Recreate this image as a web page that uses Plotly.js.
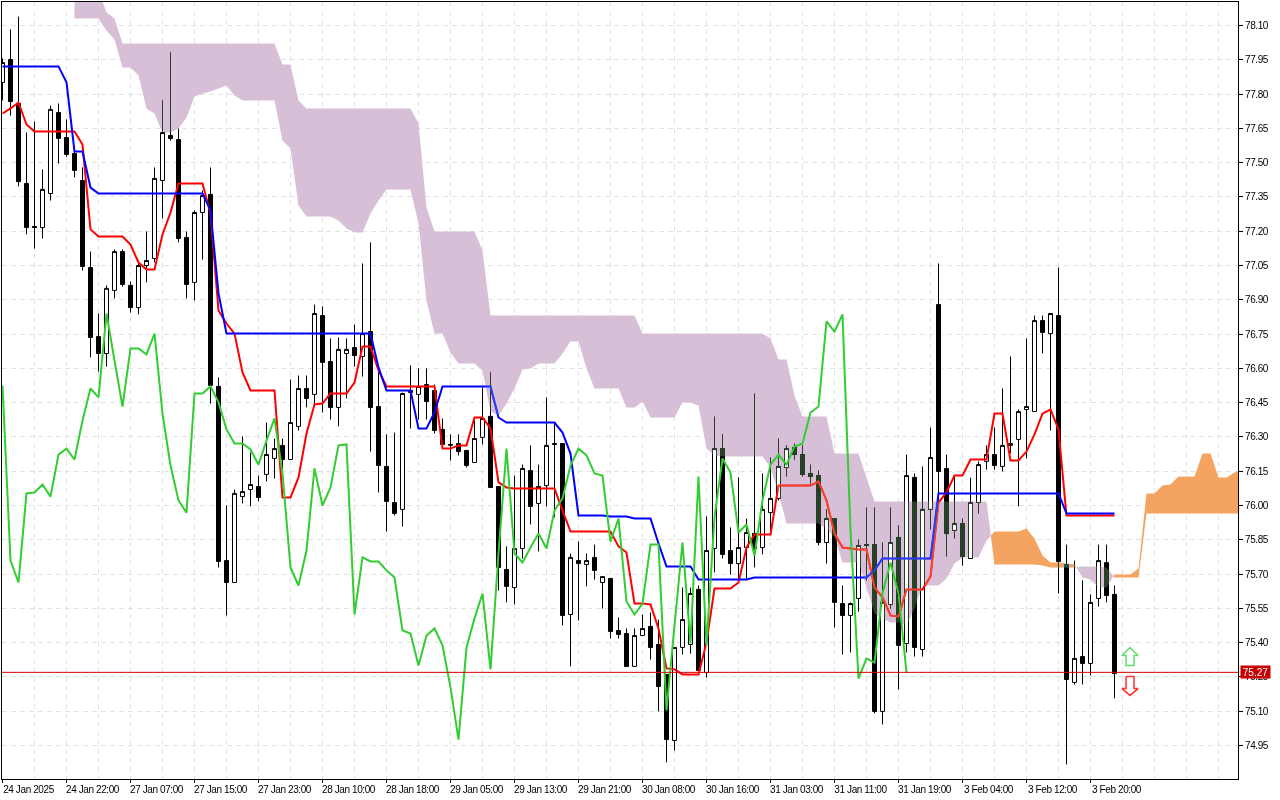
<!DOCTYPE html>
<html><head><meta charset="utf-8">
<script src="https://cdn.plot.ly/plotly-3.0.1.min.js"></script>
<style>html,body{margin:0;padding:0;background:#fff;overflow:hidden}#chart{width:1280px;height:800px}
#chart .xtick text,#chart .ytick text{letter-spacing:-0.4px}</style>
</head><body><div id="chart"></div>
<script>
const xTickBars = [0,8,16,24,32,40,48,56,64,72,80,88,96,104,112,120,128,136];
const xTickLabels = ["24 Jan 2025","24 Jan 22:00","27 Jan 07:00","27 Jan 15:00","27 Jan 23:00","28 Jan 10:00","28 Jan 18:00","29 Jan 05:00","29 Jan 13:00","29 Jan 21:00","30 Jan 08:00","30 Jan 16:00","31 Jan 03:00","31 Jan 11:00","31 Jan 19:00","3 Feb 04:00","3 Feb 12:00","3 Feb 20:00"];
const yTickValues = [78.10,77.95,77.80,77.65,77.50,77.35,77.20,77.05,76.90,76.75,76.60,76.45,76.30,76.15,76.00,75.85,75.70,75.55,75.40,75.25,75.10,74.95];
const lastPrice = 75.27;

const openPrice = [
77.851,77.951,77.759,77.409,77.221,77.216,77.365,77.719,77.610,77.540,
77.422,77.041,76.739,76.665,76.941,77.111,76.963,76.866,77.050,77.081,
77.422,77.619,77.601,77.173,76.976,77.282,77.361,76.521,75.759,75.663,
76.039,76.070,76.083,76.136,76.206,76.263,76.201,76.346,76.512,76.486,
76.831,76.630,76.429,76.665,76.691,76.652,76.761,76.433,76.171,76.013,
75.983,76.494,76.486,76.529,76.503,76.333,76.263,76.271,76.241,76.188,
76.298,76.390,76.083,75.720,75.641,75.812,76.153,76.009,76.087,76.267,
76.271,75.523,75.759,75.742,75.773,75.663,75.681,75.453,75.440,75.296,
75.431,75.471,75.392,75.261,74.972,75.379,75.392,75.633,75.269,75.812,
76.249,75.803,75.746,75.816,75.878,75.816,75.969,76.031,76.166,76.254,
76.223,76.140,76.131,75.838,75.943,75.571,75.519,75.593,75.825,75.829,
75.099,75.567,75.860,75.396,76.123,75.370,75.983,76.879,76.162,75.891,
75.921,75.768,76.013,76.193,76.223,76.171,76.263,76.289,76.420,76.411,
76.809,76.752,76.831,75.742,75.226,75.339,75.309,75.593,75.750,75.611];
const highPrice = [
77.956,78.083,78.139,77.632,77.680,77.470,77.750,77.759,77.689,77.566,
77.479,77.111,76.840,76.963,77.120,77.120,76.980,77.072,77.199,77.479,
77.772,77.982,77.649,77.199,77.291,77.378,77.479,76.560,76.000,76.070,
76.302,76.232,76.131,76.363,76.293,76.293,76.551,76.569,76.569,76.879,
76.871,76.731,76.735,76.731,76.792,77.059,77.151,76.604,76.311,76.319,
76.494,76.613,76.600,76.600,76.529,76.381,76.311,76.311,76.241,76.372,
76.516,76.582,76.083,75.821,76.131,76.179,76.263,76.179,76.473,76.363,
76.271,75.790,75.843,75.790,75.829,75.689,75.681,75.510,75.462,75.462,
75.523,75.532,75.501,75.261,75.379,75.641,75.641,75.650,75.952,76.389,
76.311,75.904,76.123,75.943,76.490,76.140,76.210,76.293,76.263,76.271,
76.263,76.179,76.153,75.983,75.943,75.650,75.576,75.851,75.991,75.991,
75.838,75.991,75.913,76.223,76.140,76.171,76.341,77.059,76.223,76.127,
75.943,76.122,76.193,76.263,76.341,76.512,76.652,76.420,76.731,76.831,
76.831,76.840,77.041,75.829,75.759,75.672,75.611,75.829,75.829,75.650];
const lowPrice = [
77.772,77.706,77.396,77.186,77.124,77.168,77.334,77.496,77.527,77.435,
77.028,76.648,76.586,76.608,76.906,76.958,76.844,76.836,76.976,77.063,
77.256,77.597,77.151,76.906,76.897,77.076,76.446,75.729,75.519,75.663,
76.009,75.996,76.018,76.105,76.118,76.118,76.201,76.328,76.429,76.442,
76.407,76.376,76.346,76.468,76.608,76.564,76.236,76.057,75.886,75.956,
75.908,76.337,76.376,76.376,76.315,76.254,76.197,76.219,76.166,76.188,
76.267,76.079,75.628,75.576,75.567,75.768,75.917,75.799,75.996,75.948,
75.475,75.296,75.497,75.646,75.676,75.549,75.418,75.418,75.296,75.296,
75.431,75.326,75.099,74.876,74.928,75.348,75.352,75.278,75.247,75.707,
75.768,75.698,75.672,75.681,75.729,75.786,75.891,76.022,76.127,76.201,
76.127,76.096,75.825,75.746,75.466,75.348,75.357,75.536,75.672,75.090,
75.042,75.549,75.195,75.357,75.339,75.339,75.895,76.022,75.777,75.856,
75.737,75.768,75.965,76.157,76.157,76.149,76.228,75.996,76.206,76.411,
76.665,76.328,75.615,74.867,75.217,75.217,75.256,75.558,75.576,75.156];
const closePrice = [
77.938,77.767,77.417,77.216,77.216,77.383,77.733,77.606,77.536,77.466,
77.046,76.735,76.665,76.950,77.111,76.967,76.866,77.050,77.072,77.431,
77.632,77.606,77.168,76.967,77.282,77.356,76.525,75.755,75.663,76.053,
76.061,76.092,76.035,76.223,76.249,76.201,76.363,76.512,76.468,76.840,
76.626,76.429,76.683,76.683,76.656,76.752,76.429,76.175,76.018,75.965,
76.490,76.503,76.521,76.455,76.328,76.267,76.267,76.236,76.175,76.293,
76.381,76.079,75.729,75.646,75.812,76.162,75.996,76.083,76.263,76.271,
75.519,75.773,75.746,75.759,75.716,75.689,75.449,75.436,75.296,75.431,
75.462,75.379,75.208,74.976,75.379,75.501,75.615,75.278,75.803,76.249,
75.786,75.746,75.816,75.882,75.812,75.983,76.031,76.171,76.249,76.223,
76.136,76.127,75.838,75.943,75.576,75.519,75.571,75.825,75.829,75.099,
75.576,75.838,75.388,76.131,75.379,75.983,76.210,76.149,75.877,75.921,
75.777,76.013,76.179,76.223,76.175,76.263,76.271,76.411,76.433,76.809,
76.757,76.840,75.755,75.239,75.331,75.309,75.576,75.759,75.606,75.265];

const tenkan = [
77.715,77.737,77.763,77.667,77.636,77.636,77.636,77.636,77.636,77.636,
77.579,77.208,77.177,77.177,77.177,77.177,77.142,77.063,77.033,77.033,
77.186,77.282,77.409,77.409,77.409,77.409,77.278,76.853,76.796,76.752,
76.582,76.503,76.503,76.503,76.503,76.035,76.035,76.123,76.315,76.442,
76.446,76.490,76.490,76.490,76.538,76.696,76.696,76.591,76.521,76.521,
76.521,76.521,76.521,76.521,76.521,76.249,76.249,76.263,76.263,76.385,
76.385,76.337,76.101,76.079,76.074,76.074,76.074,76.074,76.074,76.074,
75.978,75.886,75.886,75.886,75.886,75.886,75.886,75.821,75.794,75.571,
75.571,75.567,75.462,75.287,75.283,75.261,75.261,75.261,75.401,75.637,
75.637,75.637,75.663,75.816,75.873,75.873,75.873,76.087,76.087,76.087,
76.087,76.087,76.105,76.022,75.878,75.816,75.812,75.808,75.808,75.641,
75.598,75.519,75.514,75.633,75.633,75.633,75.689,76.013,76.057,76.131,
76.131,76.201,76.201,76.201,76.402,76.402,76.197,76.197,76.236,76.311,
76.402,76.420,76.333,75.956,75.956,75.956,75.956,75.956,75.956,75.956];
const kijun = [
77.921,77.921,77.921,77.921,77.921,77.921,77.921,77.921,77.851,77.549,
77.549,77.391,77.365,77.365,77.365,77.365,77.365,77.365,77.365,77.365,
77.365,77.365,77.365,77.365,77.365,77.365,77.291,76.928,76.752,76.752,
76.752,76.752,76.752,76.752,76.752,76.752,76.752,76.752,76.752,76.752,
76.752,76.752,76.752,76.752,76.752,76.752,76.752,76.604,76.503,76.503,
76.503,76.503,76.337,76.337,76.407,76.521,76.521,76.521,76.521,76.521,
76.521,76.521,76.385,76.363,76.363,76.363,76.363,76.363,76.363,76.363,
76.319,76.227,75.956,75.956,75.956,75.956,75.952,75.952,75.952,75.943,
75.943,75.943,75.834,75.733,75.733,75.733,75.733,75.676,75.676,75.676,
75.676,75.676,75.676,75.676,75.685,75.685,75.685,75.685,75.685,75.685,
75.685,75.685,75.685,75.685,75.685,75.685,75.685,75.685,75.685,75.716,
75.768,75.768,75.768,75.768,75.768,75.768,75.768,76.053,76.053,76.053,
76.053,76.053,76.053,76.053,76.053,76.053,76.053,76.053,76.053,76.053,
76.053,76.053,76.053,75.965,75.965,75.965,75.965,75.965,75.965,75.965];
const chikou = [
76.525,75.759,75.663,76.053,76.057,76.092,76.039,76.223,76.249,76.201,
76.372,76.512,76.473,76.840,76.634,76.433,76.687,76.687,76.661,76.752,
76.402,76.175,76.022,75.969,76.490,76.490,76.521,76.451,76.333,76.271,
76.271,76.245,76.179,76.284,76.381,76.140,75.729,75.650,75.803,76.162,
76.000,76.079,76.263,76.267,75.523,75.773,75.755,75.755,75.716,75.685,
75.453,75.440,75.300,75.431,75.462,75.388,75.204,74.976,75.379,75.506,
75.615,75.283,75.790,76.249,75.790,75.751,75.816,75.878,75.812,75.978,
76.031,76.175,76.249,76.219,76.140,76.131,75.842,75.943,75.580,75.523,
75.571,75.829,75.829,75.103,75.475,75.838,75.396,76.127,75.388,75.948,
76.206,76.144,75.882,75.917,75.781,76.022,76.179,76.223,76.179,76.258,
76.271,76.407,76.433,76.805,76.761,76.836,75.891,75.243,75.331,75.313,
75.615,75.751,75.615,75.269];

const senkouStartBar = 9;
const senkouB = [
78.253,78.253,78.253,78.253,78.157,78.131,
78.021,78.021,78.021,78.021,78.021,78.021,78.021,78.021,78.021,78.021,
78.021,78.021,78.021,78.021,78.021,78.021,78.021,78.021,78.021,78.021,
77.929,77.929,77.772,
77.737,77.737,77.737,77.737,77.737,77.737,77.737,77.737,77.737,77.737,77.737,77.737,77.737,77.737,
77.671,77.304,
77.199,77.199,77.199,77.199,77.199,77.199,77.116,
76.831,76.831,76.831,76.831,76.831,76.831,76.831,76.831,76.831,76.831,
76.831,76.831,76.831,76.831,76.831,76.831,76.831,76.831,76.831,
76.752,76.752,76.752,76.752,76.752,76.752,76.752,76.752,
76.752,76.752,76.752,76.752,76.752,76.752,76.752,76.752,
76.731,76.639,76.639,76.481,
76.389,76.389,76.389,76.389,76.227,76.227,76.227,76.227,76.122,
76.017,76.017,76.017,76.017,76.017,76.017,76.017,76.017,
76.017,76.017,76.017,76.017,76.017,76.017,76.017,
75.742,75.742,75.742,75.742,75.742,75.742,75.737,75.729,75.729,75.729,75.729,
75.733,75.733,75.733,75.729,
75.685,75.685,75.685,75.685,
75.965,75.965,75.965,75.965,75.965,75.965,75.965,75.965,75.965,75.965,75.965,75.965,75.965];
const senkouA = [
78.131,78.131,78.131,78.131,78.078,78.039,
77.916,77.916,77.881,77.737,77.715,77.632,77.632,77.649,77.698,77.789,
77.803,77.811,77.824,77.837,77.794,77.772,77.772,77.772,77.772,77.772,
77.597,77.562,77.313,
77.264,77.264,77.264,77.264,77.247,77.212,77.194,77.194,77.278,77.334,77.383,77.383,77.383,77.383,
77.234,76.897,
76.752,76.752,76.669,76.621,76.621,76.621,76.591,
76.411,76.394,76.446,76.512,76.595,76.599,76.621,76.621,76.621,76.665,
76.718,76.718,76.599,76.512,76.512,76.512,76.512,76.429,76.429,
76.455,76.385,76.385,76.385,76.385,76.451,76.451,76.438,
76.249,76.219,76.214,76.214,76.214,76.214,76.214,76.214,
76.166,76.053,75.921,75.921,
75.921,75.921,75.921,75.899,75.860,75.751,75.751,75.751,75.641,
75.527,75.506,75.488,75.488,75.475,75.549,75.650,75.650,
75.650,75.681,75.746,75.773,75.773,75.773,75.847,
75.886,75.886,75.886,75.886,75.899,75.856,75.781,75.751,75.751,75.746,75.742,
75.685,75.676,75.641,75.641,
75.698,75.698,75.698,75.724,
76.053,76.053,76.087,76.092,76.127,76.127,76.127,76.227,76.227,76.122,76.122,76.144,76.158];

const upArrowBars = [140.94,141.94,141.44,141.44,140.44,140.44,139.94,140.94];
const upArrowPrices = [75.379,75.344,75.344,75.300,75.300,75.344,75.344,75.379];
const downArrowBars = [140.44,141.44,141.44,141.94,140.94,139.94,140.44,140.44];
const downArrowPrices = [75.252,75.252,75.199,75.199,75.169,75.199,75.199,75.252];

const THISTLE = '#D8BFD8', SANDY = '#F4A460';
const OVER_THISTLE = '#274027', OVER_SANDY = '#0B5B60';

function barsOf(a, start){ return a.map((_, i) => i + (start || 0)); }

// Split the span between the two Senkou lines at every crossing.
function cloudPolygons(){
  const polys = []; let cur = null;
  const add = (bull, x, a, b) => {
    if (!cur || cur.bull !== bull){ cur = {bull, x:[], up:[], lo:[]}; polys.push(cur); }
    cur.x.push(x); cur.up.push(Math.max(a,b)); cur.lo.push(Math.min(a,b));
  };
  for (let i = 0; i < senkouA.length; i++){
    const x = i + senkouStartBar, a = senkouA[i], b = senkouB[i], bull = a > b;
    if (cur && cur.bull !== bull){
      const d0 = senkouA[i-1]-senkouB[i-1], d1 = a-b, t = d0/(d0-d1);
      const px = x-1+t, py = senkouA[i-1]+(a-senkouA[i-1])*t;
      add(cur.bull, px, py, py); add(bull, px, py, py);
    }
    add(bull, x, a, b);
  }
  return polys;
}
const polys = cloudPolygons();
function cloudTrace(p, color, xa, ya){
  return {type:'scatter', mode:'lines', x:p.x.concat(p.x.slice().reverse()), y:p.up.concat(p.lo.slice().reverse()),
    fill:'toself', fillcolor:color, line:{width:0, color:color, simplify:false}, hoverinfo:'skip', xaxis:xa, yaxis:ya};
}
const lineTrace = (x,y,color) => ({type:'scatter', mode:'lines', x, y, line:{color, width:2, simplify:false}, hoverinfo:'skip', xaxis:'x2', yaxis:'y2'});

const traces = [];
polys.forEach(p => traces.push(cloudTrace(p, p.bull ? SANDY : THISTLE, 'x', 'y')));
traces.push({type:'candlestick', x:barsOf(openPrice), open:openPrice, high:highPrice, low:lowPrice, close:closePrice,
  increasing:{line:{color:'#000',width:1}, fillcolor:'#fff'},
  decreasing:{line:{color:'#000',width:1}, fillcolor:'#000'},
  whiskerwidth:0, hoverinfo:'skip', xaxis:'x2', yaxis:'y2'});
traces.push(lineTrace(barsOf(tenkan), tenkan, '#FF0000'));
traces.push(lineTrace(barsOf(kijun), kijun, '#0000FF'));
traces.push(lineTrace(barsOf(chikou), chikou, '#32CD32'));
traces.push({type:'scatter', mode:'lines', x:upArrowBars, y:upArrowPrices, fill:'toself', fillcolor:'#fff', line:{color:'#5FDD6F',width:1.5}, hoverinfo:'skip', xaxis:'x2', yaxis:'y2'});
traces.push({type:'scatter', mode:'lines', x:downArrowBars, y:downArrowPrices, fill:'toself', fillcolor:'#fff', line:{color:'#FF3030',width:1.5}, hoverinfo:'skip', xaxis:'x2', yaxis:'y2'});
polys.forEach(p => traces.push(cloudTrace(p, p.bull ? OVER_SANDY : OVER_THISTLE, 'x3', 'y3')));

const xRange = [-0.0625, 154.4375], yRange = [74.8034, 78.2028];
const FONT = '"Liberation Sans", Arial, sans-serif';
const bare = {type:'linear', autorange:false, visible:true, showgrid:false, zeroline:false, showline:false, ticks:'', showticklabels:false};
const hiddenX = (a) => Object.assign({}, bare, {overlaying:'x', anchor:a, range:xRange.slice(), rangeslider:{visible:false}});
const hiddenY = (a) => Object.assign({}, bare, {overlaying:'y', anchor:a, range:yRange.slice(), side:'right'});
const layout = {
  width:1280, height:800, autosize:false, showlegend:false, hovermode:false,
  paper_bgcolor:'#fff', plot_bgcolor:'#fff',
  margin:{l:2, r:42, t:2, b:21, pad:0},
  boxgap:0.5, boxgroupgap:0,
  font:{family:FONT, size:10, color:'#000'},
  xaxis:{type:'linear', range:xRange, autorange:false, tickmode:'array', tickvals:xTickBars, ticktext:xTickLabels,
    ticks:'outside', ticklen:3, tickwidth:1, tickcolor:'#000', ticklabelshift:26, ticklabelstandoff:-2, ticklabeloverflow:'allow', tickangle:0,
    showgrid:true, gridcolor:'#E2E2E2', griddash:'5px,4px', gridwidth:1, zeroline:false,
    minor:{tickmode:'linear', tick0:0, dtick:4, showgrid:true, gridcolor:'#E2E2E2', griddash:'5px,4px', gridwidth:1, ticks:''},
    showline:true, linecolor:'#000', linewidth:1, mirror:true, tickfont:{family:FONT, size:10, color:'#000'}},
  yaxis:{type:'linear', range:yRange, autorange:false, side:'right', tickmode:'array', tickvals:yTickValues,
    ticktext:yTickValues.map(v => v.toFixed(2)), ticks:'outside', ticklen:4, tickwidth:1, tickcolor:'#000',
    showgrid:true, gridcolor:'#E2E2E2', griddash:'5px,4px', gridwidth:1, zeroline:false,
    showline:true, linecolor:'#000', linewidth:1, mirror:true, tickfont:{family:FONT, size:10, color:'#000'}},
  xaxis2:hiddenX('y2'), yaxis2:hiddenY('x2'), xaxis3:hiddenX('y3'), yaxis3:hiddenY('x3'),
  shapes:[{type:'line', xref:'paper', x0:0, x1:1, yref:'y', y0:lastPrice, y1:lastPrice, line:{color:'#D60000', width:1}, layer:'above'}],
  annotations:[{xref:'paper', x:1.0018, xanchor:'left', yref:'y', y:lastPrice, yanchor:'middle', text:lastPrice.toFixed(2), showarrow:false,
    bgcolor:'#C80000', font:{family:FONT, size:10, color:'#fff'}, borderpad:0, width:29, height:12, align:'center'}]
};
function blend(){
  const root = document.getElementById('chart');
  root.querySelectorAll('.subplot.xy > .plot').forEach(n => { n.style.mixBlendMode = 'multiply'; });
  root.querySelectorAll('g.x3y3').forEach(n => { n.style.mixBlendMode = 'lighten'; });
}
Plotly.newPlot('chart', traces, layout, {staticPlot:true, displayModeBar:false}).then(blend, blend);
</script></body></html>
